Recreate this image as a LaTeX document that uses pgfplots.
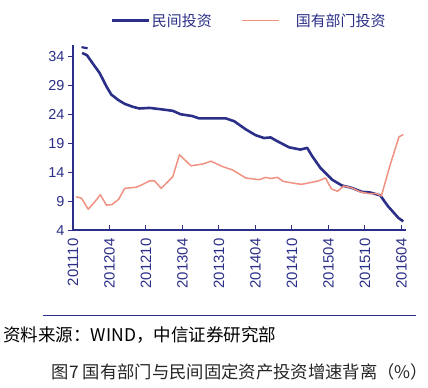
\documentclass[border=0pt]{standalone}
\usepackage{pgfplots}
\pgfplotsset{compat=1.18}
\usepackage{fontspec}
\setmainfont{Liberation Sans}
\newfontfamily\cjk{Noto Sans CJK SC}
\definecolor{navy}{RGB}{43,47,135}
\definecolor{salmon}{RGB}{240,145,130}
\begin{document}
\begin{tikzpicture}[x=1pt,y=1pt]
\path (-73.3pt,-158pt) rectangle (354.7pt,231pt);
\begin{axis}[
  at={(0pt,0pt)}, anchor=south west,
  scale only axis, width=334.7pt, height=186pt,
  xmin=0, xmax=54.8, ymin=4, ymax=36,
  axis lines*=left,
  axis line style={navy, line width=1.3pt},
  tick align=outside, major tick length=5pt,
  tick style={navy, line width=1pt},
  x tick style={yshift=5pt},
  ytick={4,9,14,19,24,29,34},
  xtick={0,6,12,18,24,30,36,42,48,54},
  xticklabels={201110,201204,201210,201304,201310,201404,201410,201504,201510,201604},
  /pgf/number format/assume math mode=true,
  yticklabel style={font=\fontsize{14.5}{14.5}\selectfont, text=navy},
  xticklabel style={font=\fontsize{15}{15}\selectfont, text=navy, rotate=90, anchor=east},
  legend style={at={(0.528,1.13)}, anchor=center, draw=none, fill=none,
    font=\cjk\fontsize{15}{15}\selectfont, text=navy, legend columns=2,
    /tikz/every even column/.append style={column sep=28pt}},
  legend image code/.code={\draw[#1] (0pt,0pt)--(37pt,0pt);},
]
\addplot[navy, line width=2.6pt, line join=round] coordinates {
(1.5,34.6)(2.3,34.2)(3.3,32.7)(4.4,31.1)(5.5,28.8)(6.3,27.4)(7.4,26.5)(8.5,25.8)(9.8,25.3)(10.9,25.0)(12.6,25.1)(14.2,24.9)(16.4,24.6)(17.7,24.0)(19.6,23.7)(20.7,23.3)(23.5,23.3)(25.1,23.3)(26.5,22.8)(28.4,21.4)(30.0,20.4)(31.4,19.9)(32.5,20.0)(33.5,19.4)(35.5,18.3)(37.4,17.9)(38.5,18.2)(39.3,16.8)(40.7,14.7)(42.6,12.7)(44.2,11.7)(45.8,11.3)(47.5,10.6)(48.8,10.5)(50.5,10.0)(51.8,8.1)(53.5,6.1)(54.3,5.5)
};
\addlegendentry{民间投资}
\addplot[salmon, line width=1.5pt, line join=round] coordinates {
(0.5,9.75)(1.4,9.5)(2.5,7.6)(3.6,8.9)(4.5,10.1)(5.5,8.3)(6.4,8.4)(7.5,9.3)(8.5,11.2)(10.4,11.4)(11.5,11.9)(12.6,12.5)(13.4,12.5)(14.5,11.2)(16.4,13.2)(17.5,17.0)(18.8,15.7)(19.4,15.1)(21.3,15.4)(22.7,15.9)(24.5,15.0)(26.2,14.4)(28.4,13.0)(30.6,12.7)(31.7,13.1)(32.5,12.9)(33.6,13.1)(34.6,12.4)(36.8,12.0)(37.6,11.9)(40.4,12.5)(41.5,13.0)(42.5,11.1)(43.5,10.7)(44.5,11.6)(45.8,11.3)(47.2,10.6)(48.6,10.3)(49.9,10.3)(50.7,9.9)(52.1,15.1)(53.6,20.1)(54.3,20.5)
};
\addlegendentry{\hspace{14pt}国有部门投资}
\addplot[navy, line width=2.2pt, forget plot] coordinates {(1.4,35.6)(2.4,35.4)};
\end{axis}
\fill[navy] (-30.3pt,-86.5pt) rectangle (344.7pt,-85.5pt);
\node[anchor=west, inner sep=0pt, font=\cjk\fontsize{17.6}{17.6}\selectfont] at (-70.3pt,-105pt) {资料来源：WIND，中信证券研究部};
\node[anchor=west, inner sep=0pt, text=black!85, font=\cjk\fontsize{17.4}{17.4}\selectfont] at (-21.3pt,-142pt) {图7 国有部门与民间固定资产投资增速背离（\%）};
\end{tikzpicture}
\end{document}
